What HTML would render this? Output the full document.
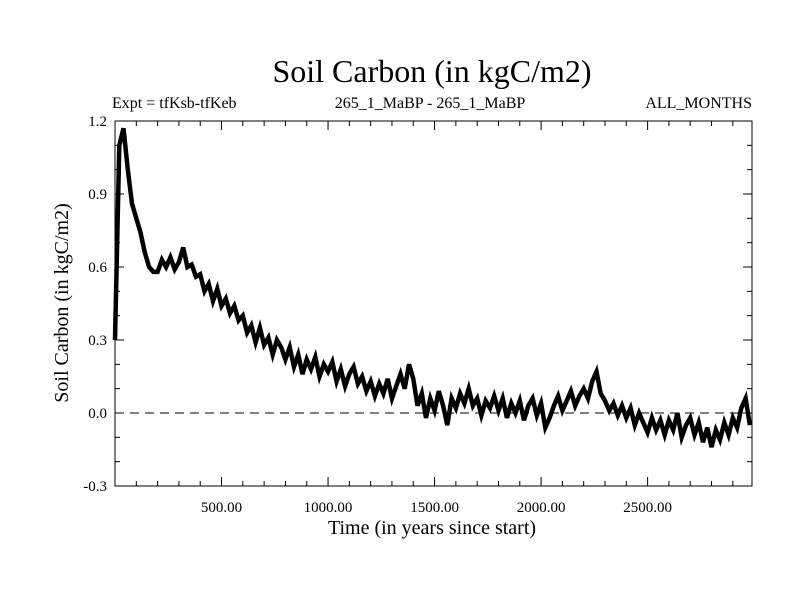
<!DOCTYPE html>
<html><head><meta charset="utf-8"><style>
body{margin:0;background:#fff}
svg text{font-family:"Liberation Serif",serif;fill:#000}
</style></head><body>
<svg id="chart" width="800" height="600">
<text x="432" y="82" font-size="32" text-anchor="middle">Soil Carbon (in kgC/m2)</text>
<text x="112" y="108" font-size="16">Expt = tfKsb-tfKeb</text>
<text x="430" y="108" font-size="16" text-anchor="middle">265_1_MaBP - 265_1_MaBP</text>
<text x="752" y="108" font-size="16" text-anchor="end">ALL_MONTHS</text>
<text x="432" y="534" font-size="20" text-anchor="middle">Time (in years since start)</text>
<text transform="translate(68,303) rotate(-90)" font-size="20" text-anchor="middle">Soil Carbon (in kgC/m2)</text>
<g id="axes"></g>
<g id="plot"></g>
</svg>
<script>
const years = [];
const soilCarbon = [
0.30,1.10,1.17,1.00,0.86,0.80,0.74,0.66,0.60,0.58,
0.58,0.63,0.60,0.64,0.59,0.62,0.68,0.60,0.61,0.56,
0.57,0.50,0.53,0.46,0.51,0.44,0.47,0.41,0.44,0.38,
0.40,0.33,0.36,0.29,0.35,0.28,0.31,0.24,0.30,0.27,
0.22,0.27,0.19,0.24,0.16,0.22,0.18,0.23,0.15,0.20,
0.17,0.21,0.13,0.18,0.11,0.16,0.19,0.12,0.15,0.09,
0.13,0.07,0.12,0.08,0.14,0.06,0.11,0.16,0.10,0.20,
0.14,0.03,0.08,-0.02,0.06,0.01,0.09,0.03,-0.05,0.06,
0.02,0.08,0.04,0.10,0.03,0.06,-0.01,0.05,0.02,0.07,
0.01,0.06,-0.02,0.04,0.00,0.05,-0.03,0.03,0.06,-0.01,
0.04,-0.06,-0.02,0.03,0.07,0.01,0.05,0.09,0.03,0.07,
0.10,0.06,0.13,0.17,0.08,0.05,0.01,0.04,-0.01,0.03,
-0.02,0.02,-0.05,0.00,-0.04,-0.08,-0.02,-0.07,-0.03,-0.09,
-0.03,-0.07,0.00,-0.10,-0.05,-0.02,-0.09,-0.04,-0.12,-0.06,
-0.14,-0.07,-0.11,-0.04,-0.09,-0.02,-0.06,0.02,0.06,-0.05];
for(let i=0;i<soilCarbon.length;i++) years.push(i*20);
const xTickValues=[500,1000,1500,2000,2500];
const xTickLabels=["500.00","1000.00","1500.00","2000.00","2500.00"];
const yTickValues=[-0.3,0,0.3,0.6,0.9,1.2];
const yTickLabels=["-0.3","0.0","0.3","0.6","0.9","1.2"];
const X0=115,X1=752,Y0=121,Y1=486;
const xMin=0,xMax=2990,yMin=-0.3,yMax=1.2;
const NS="http://www.w3.org/2000/svg";
function xs(v){return X0+(v-xMin)/(xMax-xMin)*(X1-X0);}
function ys(v){return Y1-(v-yMin)/(yMax-yMin)*(Y1-Y0);}
function mk(tag,attrs,parent){const e=document.createElementNS(NS,tag);for(const k in attrs)e.setAttribute(k,attrs[k]);parent.appendChild(e);return e;}
const axes=document.getElementById('axes'),plot=document.getElementById('plot');
const frame=mk('rect',{x:X0,y:Y0,width:X1-X0,height:Y1-Y0,fill:'none',stroke:'#000','stroke-width':1},axes);


for(let t=100;t<xMax;t+=100){const L=t%500===0?9:5;
 mk('line',{x1:xs(t),x2:xs(t),y1:Y1,y2:Y1-L,stroke:'#000'},axes);
 mk('line',{x1:xs(t),x2:xs(t),y1:Y0,y2:Y0+L,stroke:'#000'},axes);}
for(let k=-3;k<=12;k++){const v=k/10,L=(k%3===0)?9:5;
 mk('line',{x1:X0,x2:X0+L,y1:ys(v),y2:ys(v),stroke:'#000'},axes);
 mk('line',{x1:X1,x2:X1-L,y1:ys(v),y2:ys(v),stroke:'#000'},axes);}
xTickValues.forEach((v,i)=>{const t=mk('text',{x:xs(v),y:Y1+26,'font-size':15,'text-anchor':'middle'},axes);t.textContent=xTickLabels[i];
 
 });
yTickValues.forEach((v,i)=>{const t=mk('text',{x:X0-8,y:ys(v)+5,'font-size':15,'text-anchor':'end'},axes);t.textContent=yTickLabels[i];
 
 });
const zl=mk('line',{x1:X0,x2:X1,y1:ys(0),y2:ys(0),stroke:'#000','stroke-dasharray':'9,6'},plot);


const d=years.map((y,i)=>(i?'L':'M')+xs(y).toFixed(1)+','+ys(soilCarbon[i]).toFixed(1)).join('');
const p=mk('path',{d:d,fill:'none',stroke:'#000','stroke-width':4.5,'stroke-linejoin':'miter'},plot);


</script>
</body></html>
